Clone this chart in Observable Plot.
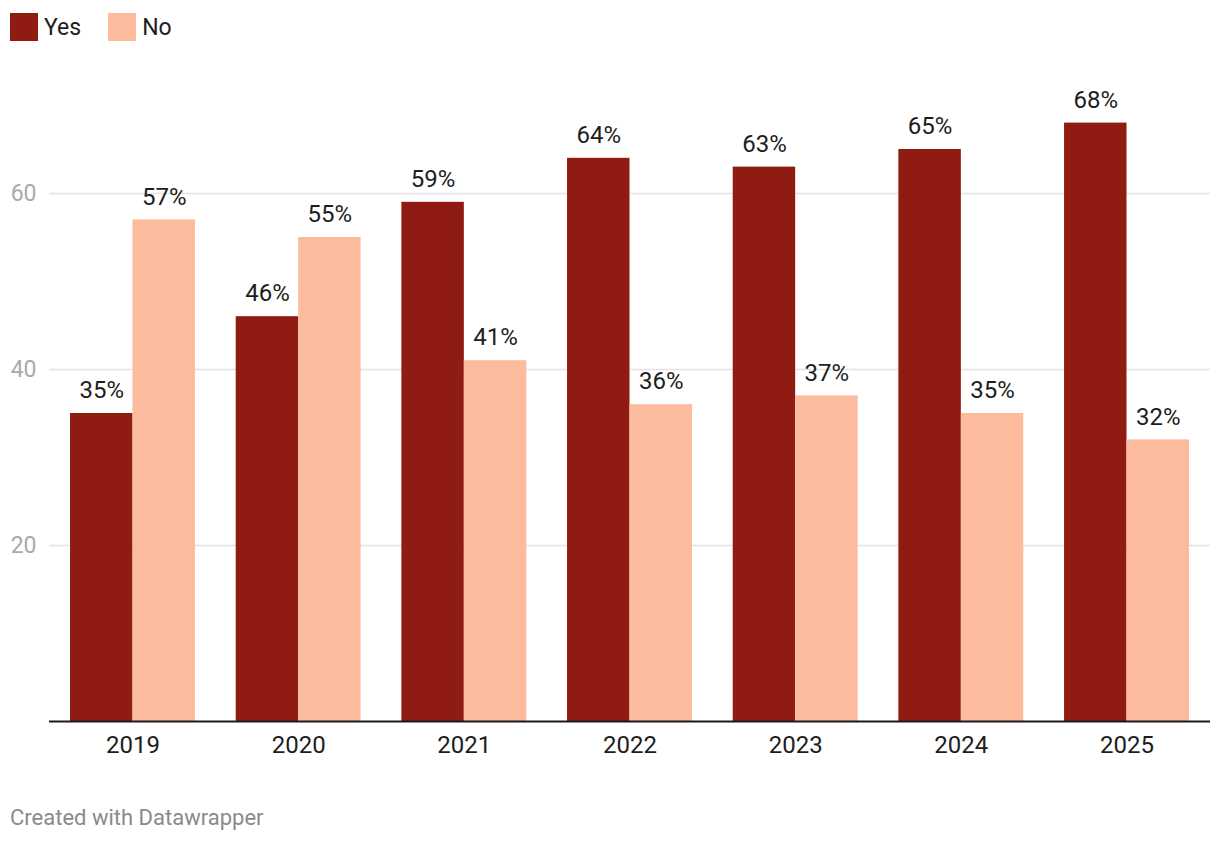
<!DOCTYPE html>
<html>
<head>
<meta charset="utf-8">
<script src="https://cdn.jsdelivr.net/npm/d3@7"></script>
<script src="https://cdn.jsdelivr.net/npm/@observablehq/plot@0.6"></script>
<style>
  html, body { margin: 0; padding: 0; background: #fff; }
  body { width: 1220px; height: 844px; position: relative; font-family: Roboto, "Noto Sans", sans-serif; overflow: hidden; }
  #legend { position: absolute; left: 10px; top: 13px; display: flex; align-items: center; font-size: 23px; color: #1d1d1d; }
  .item { display: flex; align-items: center; margin-right: 27px; }
  .sw { width: 28px; height: 28px; margin-right: 6px; }
  .layer { position: absolute; left: 0; top: 50px; }
  #footer { position: absolute; left: 10px; top: 805px; font-size: 22px; color: #8a8a8a; }
</style>
</head>
<body>
<div id="legend"></div>
<div id="grid" class="layer"></div>
<div id="chart" class="layer"></div>
<div id="footer">Created with Datawrapper</div>
<script>
const years = ["2019", "2020", "2021", "2022", "2023", "2024", "2025"];
const seriesNames = ["Yes", "No"];
const seriesColors = ["#8f1b13", "#fdbb9e"];
const yesValues = [35, 46, 59, 64, 63, 65, 68];
const noValues = [57, 55, 41, 36, 37, 35, 32];
const yTicks = [20, 40, 60];

const data = [];
years.forEach((yr, i) => {
  data.push({year: yr, series: "Yes", value: yesValues[i]});
  data.push({year: yr, series: "No", value: noValues[i]});
});

// Legend
const legend = document.getElementById("legend");
seriesNames.forEach((s, i) => {
  const it = document.createElement("div");
  it.className = "item";
  it.innerHTML = `<div class="sw" style="background:${seriesColors[i]}"></div><span>${s}</span>`;
  legend.appendChild(it);
});

const frame = {
  width: 1220,
  height: 721,
  marginTop: 55,
  marginBottom: 50,
  marginLeft: 49,
  marginRight: 10
};
const yScale = {domain: [0, 70], axis: null};
const baseStyle = {fontFamily: "Roboto, sans-serif", fontSize: "24px", color: "#1d1d1d", background: "transparent", overflow: "visible"};

// Background layer: gridlines and y tick labels (full plot width)
const grid = Plot.plot({
  ...frame,
  style: baseStyle,
  y: yScale,
  marks: [
    Plot.ruleY(yTicks, {stroke: "#e3e3e3", strokeWidth: 1.5}),
    Plot.text(yTicks, {y: d => d, text: d => String(d), frameAnchor: "left", textAnchor: "end", dx: -13, fill: "#aaaaaa", fontSize: 23})
  ]
});
document.getElementById("grid").appendChild(grid);

// Foreground layer: grouped bars, value labels
const chart = Plot.plot({
  ...frame,
  style: baseStyle,
  fx: {domain: years, paddingInner: 0.246, paddingOuter: 0.127, round: false, label: null, axis: null},
  x: {domain: seriesNames, axis: null, padding: 0, round: false},
  y: yScale,
  color: {domain: seriesNames, range: seriesColors},
  marks: [
    Plot.axisFx({anchor: "bottom", tickSize: 0, tickPadding: 14, label: null, fontSize: 24, fill: "#1d1d1d"}),
    Plot.barY(data, {fx: "year", x: "series", y: "value", fill: "series"}),
    Plot.text(data, {fx: "year", x: "series", y: "value", text: d => d.value + "%", dy: -23, fill: "#1d1d1d", fontSize: 24})
  ]
});
document.getElementById("chart").appendChild(chart);

// Baseline across full width
const base = Plot.plot({
  ...frame,
  style: baseStyle,
  y: yScale,
  marks: [Plot.ruleY([0], {stroke: "#1a1a1a", strokeWidth: 2})]
});
const baseDiv = document.createElement("div");
baseDiv.className = "layer";
baseDiv.appendChild(base);
document.body.appendChild(baseDiv);
</script>
</body>
</html>
